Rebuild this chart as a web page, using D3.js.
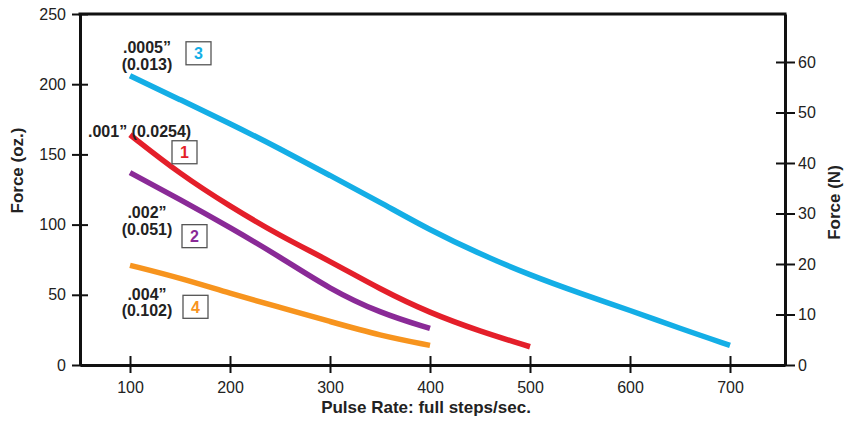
<!DOCTYPE html>
<html>
<head>
<meta charset="utf-8">
<script src="https://cdn.jsdelivr.net/npm/d3@7"></script>
<style>
  body { margin: 0; background: #fff; }
  text { font-family: "Liberation Sans", Arial, Helvetica, sans-serif; }
</style>
</head>
<body>
<script>
// pulse rate (full steps/sec) and force (oz.)
const rate1 = [100, 150, 200, 250, 300, 350, 400, 450, 500];
const force1 = [164, 136, 113, 92, 74, 54, 37, 24, 13];
const rate2 = [100, 150, 200, 250, 300, 350, 400];
const force2 = [137, 118, 98, 77, 54, 37, 26];
const rate3 = [100, 150, 200, 250, 300, 350, 400, 450, 500, 550, 600, 650, 700];
const force3 = [206, 189, 172, 154, 135, 116, 96, 79, 64, 51, 39, 26, 14];
const rate4 = [100, 150, 200, 250, 300, 350, 400];
const force4 = [71, 62, 51, 41, 31, 21, 14];

const seriesIds = ["1", "2", "3", "4"];
const seriesLabels = [
  [".001\u201d (0.0254)"],
  [".002\u201d", "(0.051)"],
  [".0005\u201d", "(0.013)"],
  [".004\u201d", "(0.102)"],
];
const xTicks = [100, 200, 300, 400, 500, 600, 700];
const yTicks = [0, 50, 100, 150, 200, 250];
const nTicks = [0, 10, 20, 30, 40, 50, 60];
const OZ_PER_N = 3.597;

const colors = ["#e41f2a", "#8a2a97", "#14aee6", "#f7941e"];

const margin = { top: 14, right: 71, bottom: 56, left: 80 };
const width = 856 - margin.left - margin.right,
  height = 421 - margin.top - margin.bottom;

const svg = d3
  .select("body")
  .append("svg")
  .attr("width", 856)
  .attr("height", 421)
  .append("g")
  .attr("transform", "translate(" + margin.left + "," + margin.top + ")");

const xScale = d3.scaleLinear().domain([50, 755]).range([0, width]);
const yScale = d3.scaleLinear().domain([0, 250]).range([height, 0]);
const nScale = d3.scaleLinear().domain([0, 250 / OZ_PER_N]).range([height, 0]);

// axes
const xAxis = d3.axisBottom(xScale).tickValues(xTicks).tickSize(8).tickSizeOuter(0).tickPadding(9);
const yAxis = d3.axisLeft(yScale).tickValues(yTicks).tickSize(8).tickSizeOuter(0).tickPadding(6);
const nAxis = d3.axisRight(nScale).tickValues(nTicks).tickSize(10).tickSizeOuter(0).tickPadding(3);

const gx = svg.append("g").attr("transform", `translate(0, ${height})`).call(xAxis);
const gy = svg.append("g").call(yAxis);
const gn = svg.append("g").attr("transform", `translate(${width}, 0)`).call(nAxis);

// ticks go through the axis line
gx.selectAll(".tick line").clone().attr("y2", -9);
gy.selectAll(".tick line").clone().attr("x2", 8);
gn.selectAll(".tick line").clone().attr("x2", -9);

[gx, gy, gn].forEach((g) => {
  g.select(".domain").attr("stroke", "#111").attr("stroke-width", 3);
  g.selectAll(".tick line").attr("stroke", "#111").attr("stroke-width", 2);
  g.selectAll(".tick text").attr("fill", "#222").attr("font-size", 16);
});

// top frame line
svg
  .append("line")
  .attr("x1", -1.5)
  .attr("x2", width + 1.5)
  .attr("y1", 0)
  .attr("y2", 0)
  .attr("stroke", "#111")
  .attr("stroke-width", 3);

// curves
const rates = [rate1, rate2, rate3, rate4];
const forces = [force1, force2, force3, force4];
const data = seriesIds.map((id, i) => ({
  id: id,
  color: colors[i],
  points: rates[i].map((r, j) => ({ rate: r, force: forces[i][j] })),
}));

const line = d3
  .line()
  .x((d) => xScale(d.rate))
  .y((d) => yScale(d.force))
  .curve(d3.curveBasis);

svg
  .selectAll(".curve")
  .data(data)
  .enter()
  .append("path")
  .attr("class", "curve")
  .attr("fill", "none")
  .attr("stroke", (d) => d.color)
  .attr("stroke-width", 5.5)
  .attr("d", (d) => line(d.points));

// labels, placed relative to the first point of each curve
const labelLayout = [
  { anchor: "start", dx: -42, dy: [2], box: [42, 6] },
  { anchor: "middle", dx: 17, dy: [45, 62], box: [52, 52] },
  { anchor: "middle", dx: 17, dy: [-23, -6], box: [56, -34] },
  { anchor: "middle", dx: 17, dy: [35, 51], box: [53, 30] },
];

data.forEach((s, i) => {
  const p = s.points[0];
  const x0 = xScale(p.rate),
    y0 = yScale(p.force);
  const lay = labelLayout[i];
  seriesLabels[i].forEach((t, k) => {
    svg
      .append("text")
      .attr("x", x0 + lay.dx)
      .attr("y", y0 + lay.dy[k])
      .attr("text-anchor", lay.anchor)
      .attr("font-size", 16)
      .attr("font-weight", 700)
      .attr("fill", "#222")
      .text(t);
  });
  const bx = x0 + lay.box[0],
    by = y0 + lay.box[1];
  svg
    .append("rect")
    .attr("x", bx)
    .attr("y", by)
    .attr("width", 25)
    .attr("height", 23)
    .attr("fill", "#fff")
    .attr("stroke", "#555")
    .attr("stroke-width", 1.3);
  svg
    .append("text")
    .attr("x", bx + 12.5)
    .attr("y", by + 17.5)
    .attr("text-anchor", "middle")
    .attr("font-size", 16)
    .attr("font-weight", 700)
    .attr("fill", s.color)
    .text(s.id);
});

// axis titles
svg
  .append("text")
  .attr("text-anchor", "middle")
  .attr("transform", `translate(${-57}, ${height / 2 - 19}) rotate(-90)`)
  .attr("font-size", 17)
  .attr("font-weight", 700)
  .attr("fill", "#222")
  .text("Force (oz.)");

svg
  .append("text")
  .attr("text-anchor", "middle")
  .attr("transform", `translate(${width + 55}, ${height / 2 + 13}) rotate(-90)`)
  .attr("font-size", 17)
  .attr("font-weight", 700)
  .attr("fill", "#222")
  .text("Force (N)");

svg
  .append("text")
  .attr("text-anchor", "middle")
  .attr("x", xScale(396))
  .attr("y", height + 48)
  .attr("font-size", 17)
  .attr("font-weight", 700)
  .attr("fill", "#222")
  .text("Pulse Rate: full steps/sec.");
</script>
</body>
</html>
